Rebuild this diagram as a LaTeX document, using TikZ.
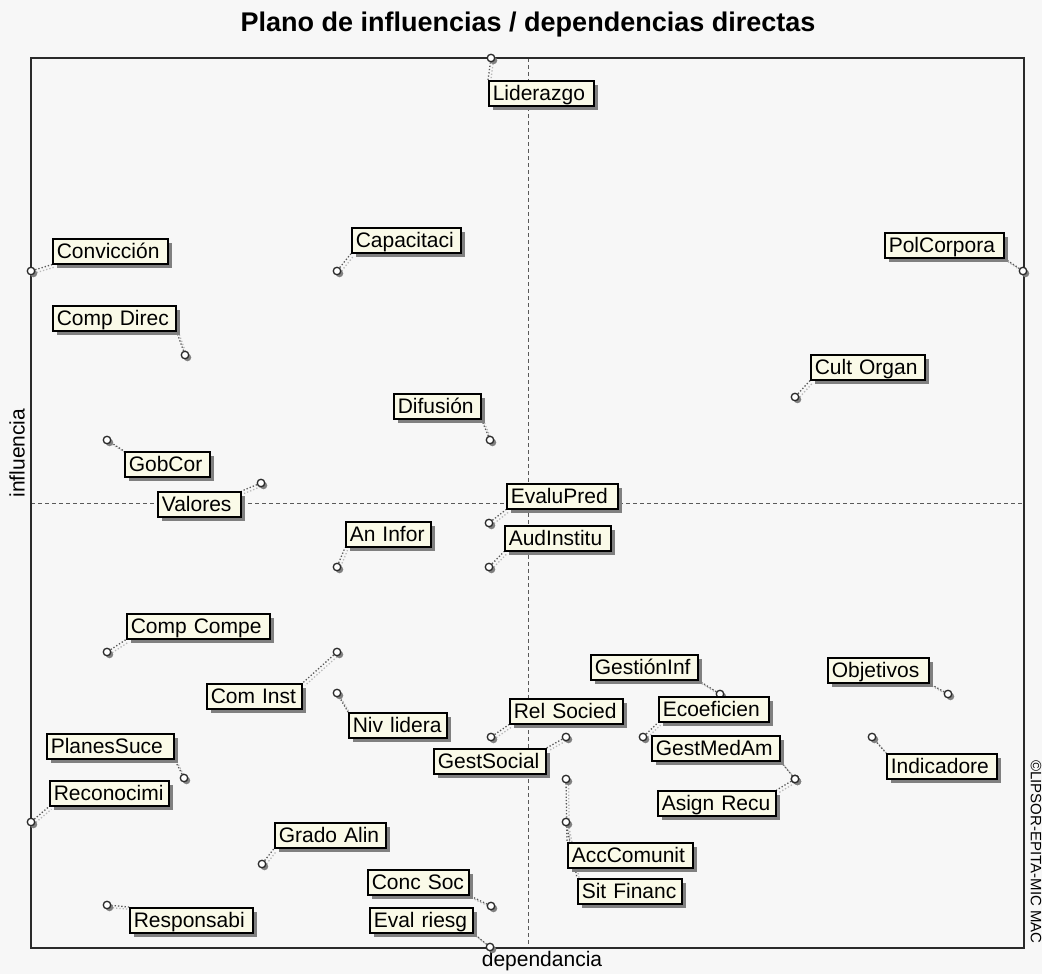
\documentclass[tikz,border=0pt]{standalone}
\usepackage{fontspec}
\setmainfont{Liberation Sans}
\usetikzlibrary{shadows}
\pgfdeclarelayer{back}
\pgfdeclarelayer{lines}
\pgfsetlayers{back,lines,main}
\definecolor{canvas}{HTML}{F7F7F7}
\definecolor{tagfill}{HTML}{FAFAE8}
\definecolor{ink}{HTML}{2A2A2A}
\definecolor{dashgray}{HTML}{5A5A5A}
\tikzset{
  tagbox/.style={draw=black, line width=1.6pt, fill=tagfill, anchor=north west,
    align=left, inner xsep=4pt, inner ysep=0pt, minimum height=25pt,
    text height=16pt, text depth=2pt,
    font=\fontsize{21}{24}\selectfont,
    general shadow={fill=black!50, shadow xshift=4pt, shadow yshift=-4pt}},
  dot/.style={circle, draw=ink, line width=1.3pt, fill=white, inner sep=0pt,
    minimum size=7.5pt,
    general shadow={fill=black!50, shadow xshift=2.5pt, shadow yshift=-2.5pt}},
  leadline/.style={draw=black!65, line width=1.3pt, dash pattern=on 1.3pt off 2pt},
  leadshadow/.style={draw=black!28, line width=1.3pt, dash pattern=on 1.3pt off 2pt},
  frame/.style={draw=ink, line width=1.8pt},
  axisline/.style={draw=dashgray, line width=0.9pt, dash pattern=on 4pt off 3pt},
  axistext/.style={font=\fontsize{21}{24}\selectfont, inner sep=0pt},
}
% dotted leader from a variable's point to a corner of its tag, with its shadow
\newcommand\leader[2]{%
  \draw[leadshadow] ([shift={(2.5,2.5)}]#1.center) -- ([shift={(2.5,2.5)}]#2);
  \draw[leadline] (#1) -- (#2);
}
\begin{document}
\begin{tikzpicture}[x=1pt,y=-1pt]
\useasboundingbox (0,0) rectangle (1042,974);

\begin{pgfonlayer}{back}
  \fill[canvas] (0,0) rectangle (1042,974);
  \draw[axisline] (528,58) -- (528,948);
  \draw[axisline] (31,503) -- (1024,503);
  \draw[frame] (31,58) rectangle (1024,948);
\end{pgfonlayer}

% titles and axis names
\node[font=\fontsize{27}{32}\selectfont\bfseries, inner sep=0pt] (title) at (528,25)
  {Plano de influencias / dependencias directas};
\node[axistext, rotate=90] (yname) at (17,453) {influencia};
\node[axistext] (xname) at (542,961) {dependancia};
\node[font=\fontsize{15}{18}\selectfont, inner sep=0pt, rotate=-90] (copy) at (1036,852)
  {©LIPSOR-EPITA-MIC MAC};

% variable points
\node[dot] (pLid) at (491,58) {};
\node[dot] (pConv) at (31,271) {};
\node[dot] (pCap) at (337,271) {};
\node[dot] (pPol) at (1023,271) {};
\node[dot] (pCDir) at (185,355) {};
\node[dot] (pCult) at (795,397) {};
\node[dot] (pDif) at (490,440) {};
\node[dot] (pGob) at (107,440) {};
\node[dot] (pVal) at (261,483) {};
\node[dot] (pEvP) at (489,523) {};
\node[dot] (pAud) at (489,567) {};
\node[dot] (pAnI) at (337,567) {};
\node[dot] (pCCom) at (107,652) {};
\node[dot] (pCIns) at (337,652) {};
\node[dot] (pNiv) at (337,693) {};
\node[dot] (pGInf) at (720,694) {};
\node[dot] (pObj) at (948,694) {};
\node[dot] (pRel) at (491,737) {};
\node[dot] (pEco) at (643,737) {};
\node[dot] (pGMA) at (795,779) {};
\node[dot] (pGSoc) at (566,737) {};
\node[dot] (pPlan) at (184,778) {};
\node[dot] (pInd) at (872,737) {};
\node[dot] (pRec) at (31,822) {};
\node[dot] (pAsig) at (795,779) {};
\node[dot] (pAcc) at (566,779) {};
\node[dot] (pGrad) at (262,864) {};
\node[dot] (pSit) at (566,822) {};
\node[dot] (pConc) at (491,906) {};
\node[dot] (pResp) at (107,905) {};
\node[dot] (pEvR) at (490,947) {};

% variable tags
\node[tagbox, text width=97pt] (liderazgo) at (488,80) {Liderazgo};
\node[tagbox, text width=107pt] (conviccion) at (52,238) {Convicción};
\node[tagbox, text width=101pt] (capacitaci) at (351,227) {Capacitaci};
\node[tagbox, text width=111pt] (polcorpora) at (884,232) {PolCorpora};
\node[tagbox, text width=115pt] (compdirec) at (52,305) {Comp Direc};
\node[tagbox, text width=106pt] (cultorgan) at (810,354) {Cult Organ};
\node[tagbox, text width=79pt] (difusion) at (393,393) {Difusión};
\node[tagbox, text width=77pt] (gobcor) at (124,451) {GobCor};
\node[tagbox, text width=75pt] (valores) at (157,491) {Valores};
\node[tagbox, text width=103pt] (evalupred) at (506,483) {EvaluPred};
\node[tagbox, text width=98pt] (audinstitu) at (504,525) {AudInstitu};
\node[tagbox, text width=77pt] (aninfor) at (345,521) {An Infor};
\node[tagbox, text width=135pt] (compcompe) at (126,613) {Comp Compe};
\node[tagbox, text width=87pt] (cominst) at (206,683) {Com Inst};
\node[tagbox, text width=90pt] (nivlidera) at (348,712) {Niv lidera};
\node[tagbox, text width=99pt] (gestioninf) at (590,654) {GestiónInf};
\node[tagbox, text width=93pt] (objetivos) at (827,657) {Objetivos};
\node[tagbox, text width=105pt] (relsocied) at (509,698) {Rel Socied};
\node[tagbox, text width=102pt] (ecoeficien) at (658,696) {Ecoeficien};
\node[tagbox, text width=120pt] (gestmedam) at (651,735) {GestMedAm};
\node[tagbox, text width=104pt] (gestsocial) at (433,748) {GestSocial};
\node[tagbox, text width=119pt] (planessuce) at (46,733) {PlanesSuce};
\node[tagbox, text width=102pt] (indicadore) at (886,753) {Indicadore};
\node[tagbox, text width=111pt] (reconocimi) at (49,780) {Reconocimi};
\node[tagbox, text width=110pt] (asignrecu) at (657,790) {Asign Recu};
\node[tagbox, text width=117pt] (acccomunit) at (567,842) {AccComunit};
\node[tagbox, text width=103pt] (gradoalin) at (274,822) {Grado Alin};
\node[tagbox, text width=96pt] (sitfinanc) at (577,878) {Sit Financ};
\node[tagbox, text width=93pt] (concsoc) at (367,869) {Conc Soc};
\node[tagbox, text width=115pt] (responsabi) at (129,907) {Responsabi};
\node[tagbox, text width=95pt] (evalriesg) at (369,907) {Eval riesg};

% leaders from points to tags
\begin{pgfonlayer}{lines}
  \leader{pLid}{liderazgo.north west}
  \leader{pConv}{conviccion.south west}
  \leader{pCap}{capacitaci.south west}
  \leader{pPol}{polcorpora.south east}
  \leader{pCDir}{compdirec.south east}
  \leader{pCult}{cultorgan.south west}
  \leader{pDif}{difusion.south east}
  \leader{pGob}{gobcor.north west}
  \leader{pVal}{valores.north east}
  \leader{pEvP}{evalupred.south west}
  \leader{pAud}{audinstitu.south west}
  \leader{pAnI}{aninfor.south west}
  \leader{pCCom}{compcompe.south west}
  \leader{pCIns}{cominst.north east}
  \leader{pNiv}{nivlidera.north west}
  \leader{pGInf}{gestioninf.south east}
  \leader{pObj}{objetivos.south east}
  \leader{pRel}{relsocied.south west}
  \leader{pEco}{ecoeficien.south west}
  \leader{pGMA}{gestmedam.south east}
  \leader{pGSoc}{gestsocial.north east}
  \leader{pPlan}{planessuce.south east}
  \leader{pInd}{indicadore.north west}
  \leader{pRec}{reconocimi.south west}
  \leader{pAsig}{asignrecu.north east}
  \leader{pAcc}{acccomunit.north west}
  \leader{pGrad}{gradoalin.south west}
  \leader{pSit}{sitfinanc.north west}
  \leader{pConc}{concsoc.south east}
  \leader{pResp}{responsabi.north west}
  \leader{pEvR}{evalriesg.south east}
\end{pgfonlayer}
\end{tikzpicture}
\end{document}
